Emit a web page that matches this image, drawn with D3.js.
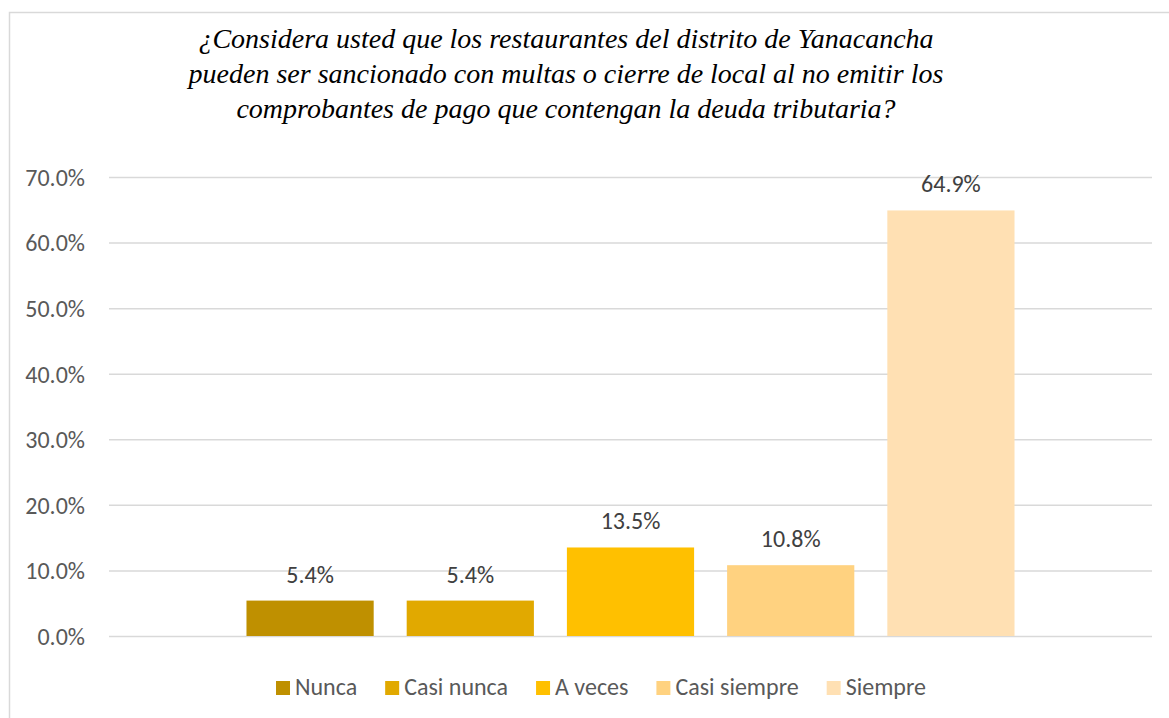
<!DOCTYPE html>
<html>
  <head>
    <meta charset="utf-8">
    <script src="https://d3js.org/d3.v7.min.js"></script>
  </head>
  <body style="margin:0">
    <div id="chart"></div>

    <script type="text/javascript">
      // data
      var series = ["Nunca", "Casi nunca", "A veces", "Casi siempre", "Siempre"];
      var values = [5.4, 5.4, 13.5, 10.8, 64.9];
      var colors = ["#bf9000", "#e1a900", "#ffc000", "#ffd280", "#ffe0b3"];
      var yTicks = [0, 10, 20, 30, 40, 50, 60, 70];
      var titleLines = [
        "¿Considera usted que los restaurantes del distrito de Yanacancha",
        "pueden ser sancionado con multas o cierre de local al no emitir los",
        "comprobantes de pago que contengan la deuda tributaria?"
      ];

      var width = 1169,
          height = 718;

      var sans = 'Carlito';

      var plot = {left: 109, right: 1152, top: 177, bottom: 636};

      var svg = d3.select('#chart').append('svg')
          .attr('width', width)
          .attr('height', height);

      // title first, same way as the font test that worked
      svg.selectAll('text')
          .data(titleLines)
          .enter().append('text')
          .attr('x', 566)
          .attr('y', function(d, i) { return 48 + i * 35; })
          .attr('font-family', 'Times New Roman')
          .attr('font-style', 'italic')
          .attr('font-size', 28)
          .style('font-family', 'Times New Roman')
          .style('font-style', 'italic')
          .attr('text-anchor', 'middle')
          .text(function(d) { return d; });

      // chart frame
      svg.append('rect')
          .attr('x', 9.5).attr('y', 12.5)
          .attr('width', 1200).attr('height', 720)
          .attr('fill', 'none')
          .attr('stroke', '#d9d9d9')
          .attr('stroke-width', 1.5);

      var y = d3.scaleLinear()
          .domain([0, 70])
          .range([plot.bottom, plot.top]);

      // one category, 5 series inside it
      var x0 = d3.scaleBand()
          .domain(["cat"])
          .range([plot.left, plot.right])
          .paddingOuter(0.179)
          .paddingInner(0);

      var x = d3.scaleBand()
          .domain(series)
          .range([x0("cat"), x0("cat") + x0.bandwidth()])
          .paddingInner(0.206)
          .paddingOuter(0);

      // gridlines + y labels
      var yAxis = d3.axisLeft(y)
          .tickValues(yTicks)
          .tickSize(-(plot.right - plot.left))
          .tickPadding(24)
          .tickFormat(function(d) { return d.toFixed(1) + '%'; });

      var gy = svg.append('g')
          .attr('transform', 'translate(' + plot.left + ',0)')
          .call(yAxis)
          .attr('font-family', sans)
          .attr('font-size', 24);
      gy.select('.domain').remove();
      gy.selectAll('.tick line')
          .attr('stroke', '#d9d9d9')
          .attr('stroke-width', 1.5);
      gy.selectAll('.tick text')
          .attr('fill', '#595959')
          .attr('dy', '0.35em');

      // bars
      svg.append('g').selectAll('rect')
          .data(values)
          .enter().append('rect')
          .attr('x', function(d, i) { return x(series[i]); })
          .attr('y', function(d) { return y(d); })
          .attr('width', x.bandwidth())
          .attr('height', function(d) { return y(0) - y(d); })
          .attr('fill', function(d, i) { return colors[i]; });

      // data labels
      svg.append('g').selectAll('text')
          .data(values)
          .enter().append('text')
          .attr('x', function(d, i) { return x(series[i]) + x.bandwidth() / 2; })
          .attr('y', function(d) { return y(d) - 18; })
          .attr('text-anchor', 'middle')
          .attr('fill', '#404040')
          .attr('font-family', sans)
          .attr('font-size', 24)
          .text(function(d) { return d.toFixed(1) + '%'; });

      // legend, centered in the chart frame
      var legend = svg.append('g');
      var items = legend.selectAll('g')
          .data(series)
          .enter().append('g');
      items.append('rect')
          .attr('width', 14).attr('height', 14)
          .attr('y', -6)
          .attr('fill', function(d, i) { return colors[i]; });
      items.append('text')
          .attr('x', 19)
          .attr('dy', '0.35em')
          .attr('fill', '#595959')
          .attr('font-family', sans)
          .attr('font-size', 24)
          .text(function(d) { return d; });

      var offset = 0;
      items.each(function() {
        var w = this.getBBox().width;
        d3.select(this).attr('transform', 'translate(' + offset + ',0)');
        offset += w + 28;
      });
      var total = offset - 28;
      legend.attr('transform', 'translate(' + (601 - total / 2) + ',687)');
    </script>
  </body>
</html>
